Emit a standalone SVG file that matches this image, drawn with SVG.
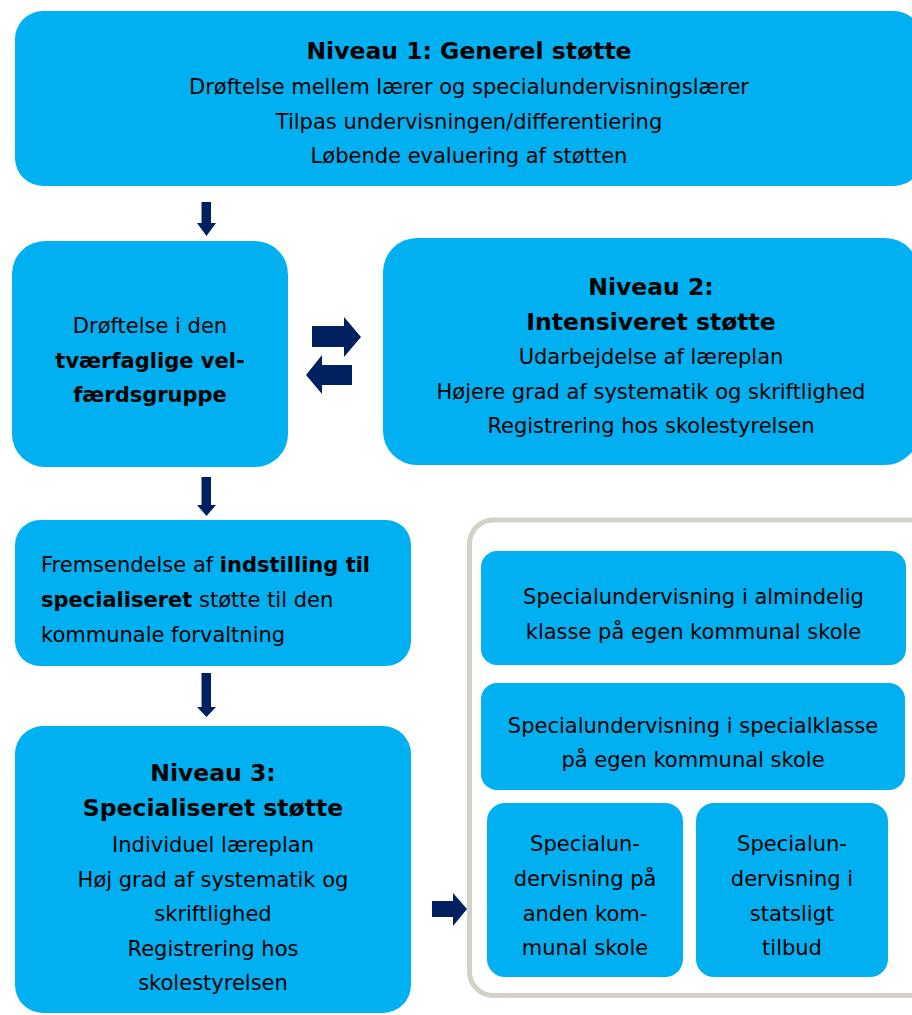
<svg xmlns="http://www.w3.org/2000/svg" width="912" height="1015" viewBox="0 0 912 1015">
  <style>
    .box { fill: #00b0f0; }
    .frame { fill: none; stroke: #d3d1c7; stroke-width: 5; }
    .arrow { fill: #002060; }
    text { font-family: "DejaVu Sans", Verdana, sans-serif; font-size: 21px; fill: #000; }
    .c { text-anchor: middle; }
    .b { font-weight: bold; }
    .t { font-weight: bold; font-size: 23.5px; }
  </style>
  <rect width="912" height="1015" fill="#ffffff"/>

  <g id="connectors">
    <polygon class="arrow" points="201.5,202 211,202 211,223 216,223 206.5,236 197,223 201.5,223"/>
    <polygon class="arrow" points="201.5,477 211,477 211,505 216,505 206.5,516 197,505 201.5,505"/>
    <polygon class="arrow" points="201.5,673 211,673 211,707 216,707 206.5,717 197,707 201.5,707"/>
    <polygon class="arrow" points="312,326 344,326 344,317 361,337 344,357 344,347 312,347"/>
    <polygon class="arrow" points="352,365 322,365 322,355 306,375 322,394 322,385 352,385"/>
    <polygon class="arrow" points="432,901 453,901 453,893 467,909 453,926 453,917 432,917"/>
  </g>

  <g id="niveau1">
    <rect class="box" x="15" y="11" width="907" height="175" rx="28"/>
    <text class="c t" x="469" y="59">Niveau 1: Generel støtte</text>
    <text class="c" x="469" y="94">Drøftelse mellem lærer og specialundervisningslærer</text>
    <text class="c" x="469" y="129">Tilpas undervisningen/differentiering</text>
    <text class="c" x="469" y="163">Løbende evaluering af støtten</text>
  </g>

  <g id="velfaerdsgruppe">
    <rect class="box" x="12" y="241" width="276" height="226" rx="33"/>
    <text class="c" x="150" y="333">Drøftelse i den</text>
    <text class="c b" x="150" y="368">tværfaglige vel-</text>
    <text class="c b" x="150" y="402">færdsgruppe</text>
  </g>

  <g id="niveau2">
    <rect class="box" x="383" y="238" width="536" height="227" rx="34"/>
    <text class="c t" x="651" y="295">Niveau 2:</text>
    <text class="c t" x="651" y="330">Intensiveret støtte</text>
    <text class="c" x="651" y="364">Udarbejdelse af læreplan</text>
    <text class="c" x="651" y="399">Højere grad af systematik og skriftlighed</text>
    <text class="c" x="651" y="433">Registrering hos skolestyrelsen</text>
  </g>

  <g id="indstilling">
    <rect class="box" x="15" y="520" width="396" height="146" rx="25"/>
    <text x="41" y="572">Fremsendelse af <tspan class="b">indstilling til</tspan></text>
    <text x="41" y="607"><tspan class="b">specialiseret</tspan> støtte til den</text>
    <text x="41" y="642">kommunale forvaltning</text>
  </g>

  <g id="niveau3">
    <rect class="box" x="15" y="726" width="396" height="287" rx="28"/>
    <text class="c t" x="213" y="781">Niveau 3:</text>
    <text class="c t" x="213" y="816">Specialiseret støtte</text>
    <text class="c" x="213" y="852">Individuel læreplan</text>
    <text class="c" x="213" y="887">Høj grad af systematik og</text>
    <text class="c" x="213" y="921">skriftlighed</text>
    <text class="c" x="213" y="956">Registrering hos</text>
    <text class="c" x="213" y="990">skolestyrelsen</text>
  </g>

  <g id="tilbud">
    <rect class="frame" x="469.5" y="520" width="470" height="475.5" rx="24"/>
  </g>

  <g id="almindelig-klasse">
    <rect class="box" x="481" y="551" width="425" height="114" rx="16"/>
    <text class="c" x="693.5" y="604">Specialundervisning i almindelig</text>
    <text class="c" x="693.5" y="639">klasse på egen kommunal skole</text>
  </g>

  <g id="specialklasse">
    <rect class="box" x="481" y="683" width="424" height="107" rx="16"/>
    <text class="c" x="693" y="733">Specialundervisning i specialklasse</text>
    <text class="c" x="693" y="767">på egen kommunal skole</text>
  </g>

  <g id="anden-skole">
    <rect class="box" x="487" y="803" width="196" height="174" rx="18"/>
    <text class="c" x="585" y="851">Specialun-</text>
    <text class="c" x="585" y="886">dervisning på</text>
    <text class="c" x="585" y="921">anden kom-</text>
    <text class="c" x="585" y="955">munal skole</text>
  </g>

  <g id="statsligt-tilbud">
    <rect class="box" x="696" y="803" width="192" height="174" rx="18"/>
    <text class="c" x="792" y="851">Specialun-</text>
    <text class="c" x="792" y="886">dervisning i</text>
    <text class="c" x="792" y="921">statsligt</text>
    <text class="c" x="792" y="955">tilbud</text>
  </g>
</svg>
